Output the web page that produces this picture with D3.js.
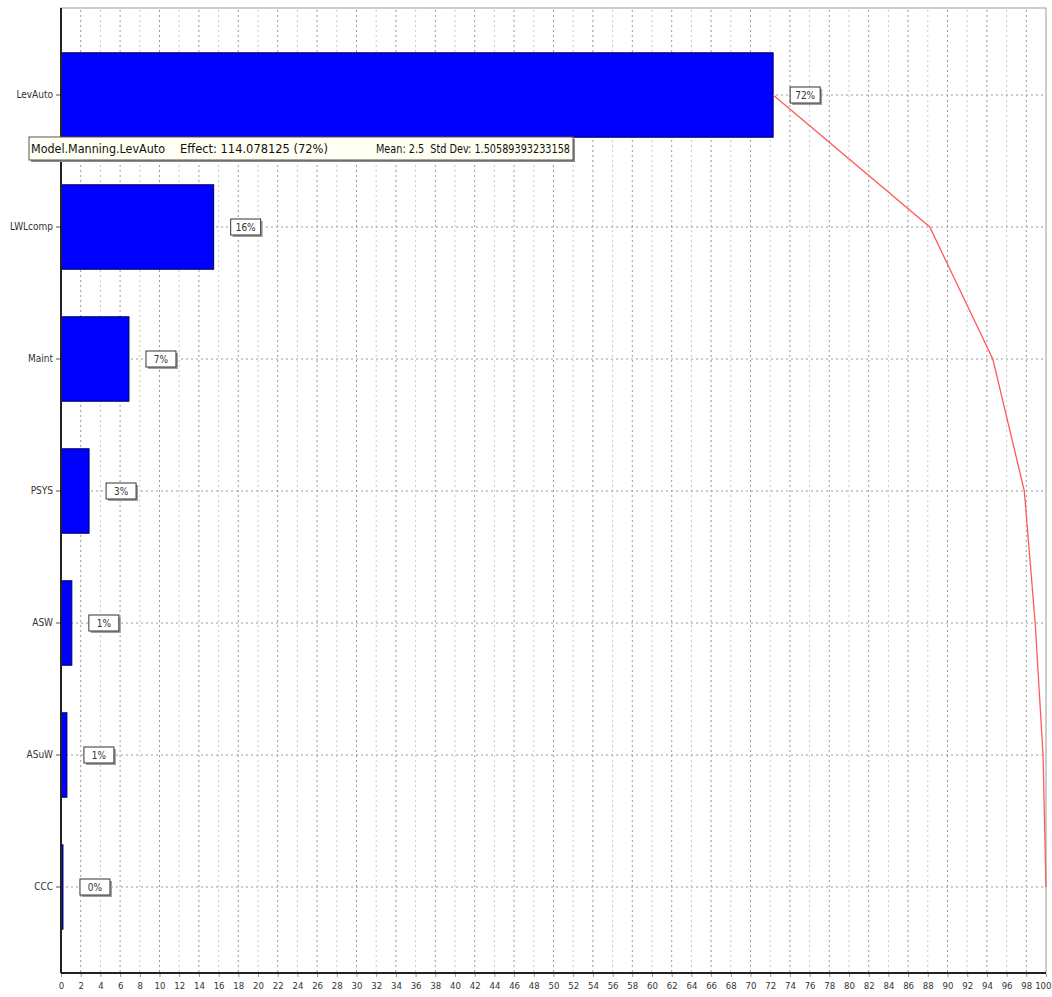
<!DOCTYPE html>
<html>
<head>
<meta charset="utf-8">
<script src="https://cdn.jsdelivr.net/npm/d3@7"></script>
<style>
  body { margin: 0; background: #fff; }
  text { font-family: "DejaVu Sans Condensed", "DejaVu Sans", sans-serif; }
</style>
</head>
<body>
<script>
// factor names, top to bottom
const factors = ["LevAuto", "LWLcomp", "Maint", "PSYS", "ASW", "ASuW", "CCC"];
// effect share in percent (bar length)
const shares = [72.3, 15.5, 6.9, 2.85, 1.1, 0.6, 0.2];
// rounded labels shown in boxes
const shareLabels = ["72%", "16%", "7%", "3%", "1%", "1%", "0%"];
// cumulative percent (red line)
const cumulative = [72.3, 88.2, 94.6, 97.8, 98.9, 99.7, 100];
// x axis ticks
const xTicks = d3.range(0, 101, 2);

const tooltipText = ["Model.Manning.LevAuto", "Effect: 114.078125 (72%)", "Mean: 2.5  Std Dev: 1.50589393233158"];

const width = 1052, height = 997;
const plotL = 61, plotR = 1046, plotT = 8, plotB = 973;

const svg = d3.select("body").append("svg")
    .attr("width", width)
    .attr("height", height);

const x = d3.scaleLinear().domain([0, 100]).range([plotL, plotR]);
const y = d3.scaleBand().domain(factors).range([29, 953]).padding(0);
const yc = d => y(d) + y.bandwidth() / 2;
const barH = y.bandwidth() * 0.64;

// frame
svg.append("rect")
    .attr("x", plotL).attr("y", plotT)
    .attr("width", plotR - plotL).attr("height", plotB - plotT)
    .attr("fill", "#fff")
    .attr("stroke", "#9a9a9a");

// vertical grid
svg.append("g").selectAll("line")
    .data(xTicks.filter(d => d > 0 && d < 100))
    .join("line")
    .attr("x1", d => x(d)).attr("x2", d => x(d))
    .attr("y1", plotT + 2).attr("y2", plotB)
    .attr("stroke", (d, i) => i % 2 ? "#c8c8c8" : "#9a9a9a")
    .attr("stroke-dasharray", "2,3");

// horizontal grid at row centres
svg.append("g").selectAll("line")
    .data(factors)
    .join("line")
    .attr("x1", plotL).attr("x2", plotR)
    .attr("y1", d => yc(d)).attr("y2", d => yc(d))
    .attr("stroke", "#9a9a9a")
    .attr("stroke-dasharray", "2,3");

// bars
svg.append("g").selectAll("rect")
    .data(factors)
    .join("rect")
    .attr("x", x(0))
    .attr("y", d => yc(d) - barH / 2)
    .attr("width", (d, i) => x(shares[i]) - x(0))
    .attr("height", barH)
    .attr("fill", "#0000ff")
    .attr("stroke", "#000060")
    .attr("stroke-width", 1);

// cumulative line
const line = d3.line()
    .x(d => x(d[1]))
    .y(d => yc(d[0]));
svg.append("path")
    .datum(factors.map((f, i) => [f, cumulative[i]]))
    .attr("d", line)
    .attr("fill", "none")
    .attr("stroke", "#ff5a5a")
    .attr("stroke-width", 1.3);

// value boxes
const boxes = svg.append("g").selectAll("g")
    .data(factors)
    .join("g")
    .attr("transform", (d, i) => `translate(${x(shares[i]) + 17},${yc(d) - 8})`);
boxes.append("rect")
    .attr("x", 2).attr("y", 2).attr("width", 30).attr("height", 16)
    .attr("fill", "#a0a0a0");
boxes.append("rect")
    .attr("width", 30).attr("height", 16)
    .attr("fill", "#fff")
    .attr("stroke", "#333");
boxes.append("text")
    .attr("x", 15).attr("y", 12)
    .attr("text-anchor", "middle")
    .attr("font-size", 10)
    .attr("fill", "#333")
    .text((d, i) => shareLabels[i]);

// axes lines (left and bottom, darker)
svg.append("line")
    .attr("x1", plotL).attr("x2", plotL).attr("y1", plotT).attr("y2", plotB)
    .attr("stroke", "#222").attr("stroke-width", 2);
svg.append("line")
    .attr("x1", plotL).attr("x2", plotR).attr("y1", plotB).attr("y2", plotB)
    .attr("stroke", "#222").attr("stroke-width", 2);

// y axis labels
const yAxis = d3.axisLeft(y).tickSize(4).tickPadding(3);
const gy = svg.append("g").attr("transform", `translate(${plotL - 1},0)`).call(yAxis);
gy.select(".domain").remove();
gy.selectAll("text").attr("font-size", 10).attr("fill", "#333");
gy.selectAll("line").attr("stroke", "#555");

// x axis labels
const xAxis = d3.axisBottom(x).tickValues(xTicks).tickSize(3).tickPadding(5);
const gx = svg.append("g").attr("transform", `translate(0,${plotB + 1})`).call(xAxis);
gx.select(".domain").remove();
gx.selectAll("text").attr("font-size", 9.5).attr("fill", "#333");
gx.selectAll("line").attr("stroke", "#999");
// keep the last label inside the window
gx.selectAll(".tick").filter(d => d === 100).select("text")
    .attr("text-anchor", "end").attr("x", 5);

// tooltip
const tip = svg.append("g").attr("transform", "translate(29,137)");
tip.append("rect")
    .attr("x", 2).attr("y", 2).attr("width", 544).attr("height", 23)
    .attr("fill", "#8a8a8a");
tip.append("rect")
    .attr("width", 544).attr("height", 23)
    .attr("fill", "#fffff4")
    .attr("stroke", "#555");
const tipX = [2, 151, 347];
const tipW = [134, 148, 194];
tip.selectAll("text")
    .data(tooltipText)
    .join("text")
    .attr("x", (d, i) => tipX[i])
    .attr("y", 16)
    .attr("font-size", 12.5)
    .attr("fill", "#111")
    .style("white-space", "pre")
    .attr("textLength", (d, i) => tipW[i])
    .attr("lengthAdjust", "spacingAndGlyphs")
    .text(d => d);
</script>
</body>
</html>
